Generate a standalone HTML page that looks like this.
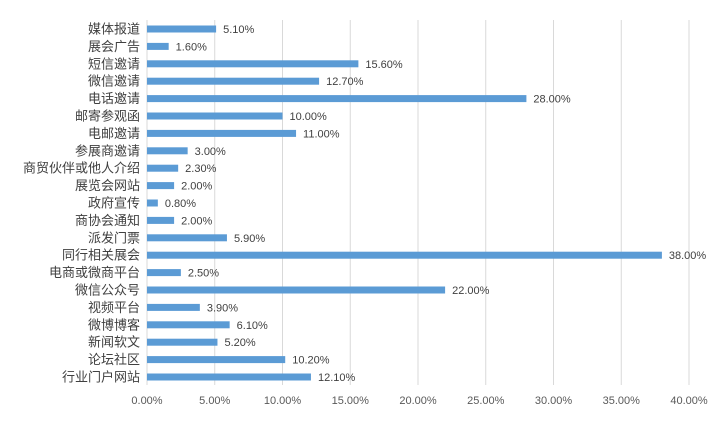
<!DOCTYPE html><html><head><meta charset="utf-8"><style>body{margin:0;background:#fff}</style></head><body>
<svg width="717" height="420" xmlns="http://www.w3.org/2000/svg" font-family="Liberation Sans, Noto Sans CJK SC, sans-serif">
<g id="gr" stroke="#d9d9d9" stroke-width="1"></g>
<g id="c"></g>
<g id="tk" font-size="11" fill="#595959" text-anchor="middle"></g>
</svg>
<script>
var d=[["媒体报道",5.1],["展会广告",1.6],["短信邀请",15.6],["微信邀请",12.7],["电话邀请",28],["邮寄参观函",10],["电邮邀请",11],["参展商邀请",3],["商贸伙伴或他人介绍",2.3],["展览会网站",2],["政府宣传",0.8],["商协会通知",2],["派发门票",5.9],["同行相关展会",38],["电商或微商平台",2.5],["微信公众号",22],["视频平台",3.9],["微博博客",6.1],["新闻软文",5.2],["论坛社区",10.2],["行业门户网站",12.1]];
var ns='http://www.w3.org/2000/svg',g=document.getElementById('c'),gr=document.getElementById('gr'),tk=document.getElementById('tk');
var x0=147,k=13.55;
function el(p,n,a,t){var e=document.createElementNS(ns,n);for(var i in a)e.setAttribute(i,a[i]);if(t)e.textContent=t;p.appendChild(e);return e;}
for(var i=0;i<=8;i++){var x=x0+i*5*k;el(gr,'line',{x1:x,x2:x,y1:20,y2:385});el(tk,'text',{x:x,y:404},(i*5).toFixed(2)+'%');}
var n=d.length,y0=29,y1=377,st=(y1-y0)/(n-1);
d.forEach(function(r,i){var cy=y0+i*st,w=r[1]*k;
el(g,'rect',{x:x0,y:cy-3.5,width:w,height:7,fill:'#5b9bd5'});
el(g,'text',{x:140,y:cy+4.5,'font-size':13,fill:'#404040','text-anchor':'end'},r[0]);
el(g,'text',{x:x0+w+7,y:cy+4,'font-size':11,fill:'#404040'},r[1].toFixed(2)+'%');});
</script>
</body></html>
